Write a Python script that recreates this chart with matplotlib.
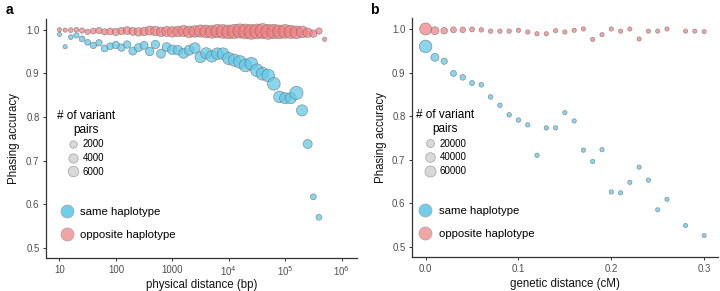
import numpy as np
import matplotlib
matplotlib.use("Agg")
import matplotlib.pyplot as plt
from matplotlib.lines import Line2D
from matplotlib.ticker import FixedLocator, NullLocator

plt.rcParams['font.family'] = ['Liberation Sans', 'DejaVu Sans']

# ---------------- data ----------------
# Panel a: physical distance bins (log10 bp), 0.1-decade bins
phys_log_opp = np.round(np.arange(1.0, 5.75, 0.1), 2)          # 48 bins
phys_acc_opp = [1.000, 0.999, 0.999, 1.000, 0.998, 0.995, 0.997, 0.998, 0.995, 0.996,
                0.995, 0.997, 0.998, 0.996, 0.995, 0.996, 0.998, 0.997, 0.995, 0.996,
                0.995, 0.996, 0.997, 0.995, 0.996, 0.997, 0.996, 0.995, 0.997, 0.996,
                0.995, 0.996, 0.997, 0.996, 0.995, 0.996, 0.997, 0.995, 0.996, 0.995,
                0.996, 0.995, 0.994, 0.995, 0.993, 0.991, 0.997, 0.978]
phys_n_opp = [120, 120, 280, 280, 490, 490, 770, 1110, 1110, 1510,
              1980, 1980, 2500, 2500, 3090, 3090, 3730, 4440, 4440, 5220,
              6050, 6050, 6940, 7900, 7900, 8920, 10000, 10000, 11140, 12350,
              12350, 13610, 13610, 14940, 14940, 14940, 14940, 14940, 13610, 12350,
              12350, 11140, 10000, 7900, 4440, 1980, 1110, 120]

phys_log_same = np.round(np.arange(1.0, 5.65, 0.1), 2)         # 47 bins
phys_acc_same = [0.989, 0.961, 0.983, 0.987, 0.979, 0.971, 0.964, 0.970, 0.957, 0.962,
                 0.965, 0.959, 0.966, 0.951, 0.959, 0.964, 0.950, 0.966, 0.945, 0.960,
                 0.954, 0.953, 0.946, 0.953, 0.958, 0.937, 0.946, 0.939, 0.945, 0.945,
                 0.934, 0.930, 0.926, 0.918, 0.922, 0.907, 0.899, 0.895, 0.876, 0.846,
                 0.843, 0.843, 0.855, 0.815, 0.738, 0.617, 0.570]
phys_n_same = [120, 120, 280, 490, 770, 770, 1110, 1110, 1510, 1510,
               1980, 1980, 1980, 2500, 2500, 2500, 3090, 3090, 3730, 3730,
               4440, 4440, 5220, 5220, 6050, 6940, 6940, 7900, 7900, 7900,
               8920, 8920, 10000, 10000, 10000, 10000, 10000, 10000, 10000, 7900,
               6940, 6940, 11140, 6940, 3730, 770, 770]

# Panel b: genetic distance (cM)
gen_x_opp = [0.00, 0.01, 0.02, 0.03, 0.04, 0.05, 0.06, 0.07, 0.08, 0.09,
             0.10, 0.11, 0.12, 0.13, 0.14, 0.15, 0.16, 0.17, 0.18, 0.19,
             0.20, 0.21, 0.22, 0.23, 0.24, 0.25, 0.26, 0.28, 0.29, 0.30]
gen_acc_opp = [1.000, 0.996, 0.996, 0.998, 0.998, 0.999, 0.998, 0.995, 0.995, 0.995,
               0.997, 0.993, 0.989, 0.989, 0.996, 0.993, 0.997, 1.000, 0.976, 0.987,
               1.000, 0.995, 1.000, 0.977, 0.995, 0.995, 1.000, 0.995, 0.995, 0.994]
gen_n_opp = [78000, 20000, 9400, 5300, 3900, 1450, 600, 400, 350, 320,
             300, 280, 260, 240, 230, 220, 210, 200, 190, 180,
             170, 160, 150, 150, 140, 130, 120, 110, 100, 100]

gen_x_same = [0.00, 0.01, 0.02, 0.03, 0.04, 0.05, 0.06, 0.07, 0.08, 0.09,
              0.10, 0.11, 0.12, 0.13, 0.14, 0.15, 0.16, 0.17, 0.18, 0.19,
              0.20, 0.21, 0.22, 0.23, 0.24, 0.25, 0.26, 0.28, 0.30]
gen_acc_same = [0.960, 0.935, 0.926, 0.898, 0.889, 0.876, 0.872, 0.844, 0.825, 0.803,
                0.791, 0.780, 0.710, 0.773, 0.773, 0.808, 0.789, 0.722, 0.696, 0.723,
                0.626, 0.624, 0.648, 0.683, 0.653, 0.585, 0.609, 0.549, 0.526]
gen_n_same = [90000, 20000, 7000, 5300, 3900, 1450, 900, 700, 500, 450,
              400, 350, 300, 280, 260, 240, 230, 220, 210, 200,
              190, 180, 170, 160, 150, 140, 130, 120, 100]

size_breaks_a = [2000, 4000, 6000]
size_breaks_b = [20000, 40000, 60000]
xticks_a = [1, 2, 3, 4, 5, 6]
xticklabels_a = ['10', '100', '1000', '10$^4$', '10$^5$', '10$^6$']
xticks_b = [0.0, 0.1, 0.2, 0.3]
yticks = [0.5, 0.6, 0.7, 0.8, 0.9, 1.0]

# ---------------- styling ----------------
BLUE = '#62C9E8'
RED = '#EF7C7E'
EDGE = '#707070'
TICKC = '#4D4D4D'
PX2PT = 0.72  # at dpi 100
LABFS = 8.3


def diam_a(n):
    return 3.2 + 0.095 * np.sqrt(np.asarray(n, float))


def diam_b(n):
    return 3.9 + 0.0289 * np.sqrt(np.asarray(n, float))


def s_from_d(d):
    return (np.asarray(d) * PX2PT) ** 2


fig = plt.figure(figsize=(7.2, 2.91), dpi=100)
axA = fig.add_axes([0.0635, 0.1124, 0.432, 0.8223])
axB = fig.add_axes([0.5718, 0.1158, 0.426, 0.8213])

for ax in (axA, axB):
    for sp in ('top', 'right'):
        ax.spines[sp].set_visible(False)
    for sp in ('left', 'bottom'):
        ax.spines[sp].set_color('#333333')
        ax.spines[sp].set_linewidth(0.9)
    ax.tick_params(axis='both', colors='#333333', labelcolor=TICKC, labelsize=6.9,
                   length=2.5, width=0.7, pad=2)
    ax.set_yticks(yticks)
    ax.set_yticklabels([f'{v:.1f}' for v in yticks])
    ax.set_ylim(0.476, 1.0245)
    ax.set_ylabel('Phasing accuracy', fontsize=LABFS, color='#111111')

# Panel a
axA.scatter(phys_log_same, phys_acc_same, s=s_from_d(diam_a(phys_n_same)),
            facecolor=BLUE, edgecolor=EDGE, linewidth=0.5, alpha=0.75, zorder=3)
axA.scatter(phys_log_opp, phys_acc_opp, s=s_from_d(diam_a(phys_n_opp)),
            facecolor=RED, edgecolor=EDGE, linewidth=0.5, alpha=0.7, zorder=2)
axA.set_xlim(0.756, 6.27)
axA.xaxis.set_major_locator(FixedLocator(xticks_a))
axA.set_xticklabels(xticklabels_a)
axA.xaxis.set_minor_locator(NullLocator())
axA.set_xlabel('physical distance (bp)', fontsize=LABFS, color='#111111')
axA.yaxis.set_label_coords(-0.083, 0.5)
axA.xaxis.set_label_coords(0.5, -0.088)

# Panel b
axB.scatter(gen_x_same, gen_acc_same, s=s_from_d(diam_b(gen_n_same)),
            facecolor=BLUE, edgecolor=EDGE, linewidth=0.5, alpha=0.75, zorder=3)
axB.scatter(gen_x_opp, gen_acc_opp, s=s_from_d(diam_b(gen_n_opp)),
            facecolor=RED, edgecolor=EDGE, linewidth=0.5, alpha=0.7, zorder=2)
axB.set_xlim(-0.015, 0.3154)
axB.set_xticks(xticks_b)
axB.set_xticklabels([f'{v:.1f}' for v in xticks_b])
axB.set_xlabel('genetic distance (cM)', fontsize=LABFS, color='#111111')
axB.yaxis.set_label_coords(-0.081, 0.5)
axB.xaxis.set_label_coords(0.5, -0.088)


def add_legends(ax, breaks, dfun, anchor1, anchor2):
    h1 = [Line2D([], [], marker='o', linestyle='', markersize=float(dfun(b)) * PX2PT,
                 markerfacecolor='#D9D9D9', markeredgecolor='#A0A0A0',
                 markeredgewidth=0.5) for b in breaks]
    leg1 = ax.legend(h1, [str(b) for b in breaks], title='# of variant\npairs',
                     loc='upper left', bbox_to_anchor=anchor1, frameon=False,
                     fontsize=7, title_fontsize=8.5, handletextpad=0.4,
                     labelspacing=0.38, borderpad=0, borderaxespad=0,
                     handlelength=1.2)
    leg1.get_title().set_multialignment('center')
    ax.add_artist(leg1)
    h2 = [Line2D([], [], marker='o', linestyle='', markersize=13 * PX2PT,
                 markerfacecolor=c, markeredgecolor='#A0A0A0', markeredgewidth=0.5,
                 alpha=0.9) for c in (BLUE, '#F19A9B')]
    ax.legend(h2, ['same haplotype', 'opposite haplotype'], loc='upper left',
              bbox_to_anchor=anchor2, frameon=False, fontsize=8.2,
              handletextpad=0.45, labelspacing=1.15, borderpad=0, borderaxespad=0,
              handlelength=1.5)


add_legends(axA, size_breaks_a, diam_a, (0.035, 0.62), (0.04, 0.215))
add_legends(axB, size_breaks_b, diam_b, (0.015, 0.62), (0.015, 0.215))

fig.text(6 / 720, 1 - 10 / 291, 'a', fontsize=10, fontweight='bold', va='center', ha='left')
fig.text(370 / 720, 1 - 10 / 291, 'b', fontsize=10, fontweight='bold', va='center', ha='left')

fig.savefig('out.png', dpi=100)
